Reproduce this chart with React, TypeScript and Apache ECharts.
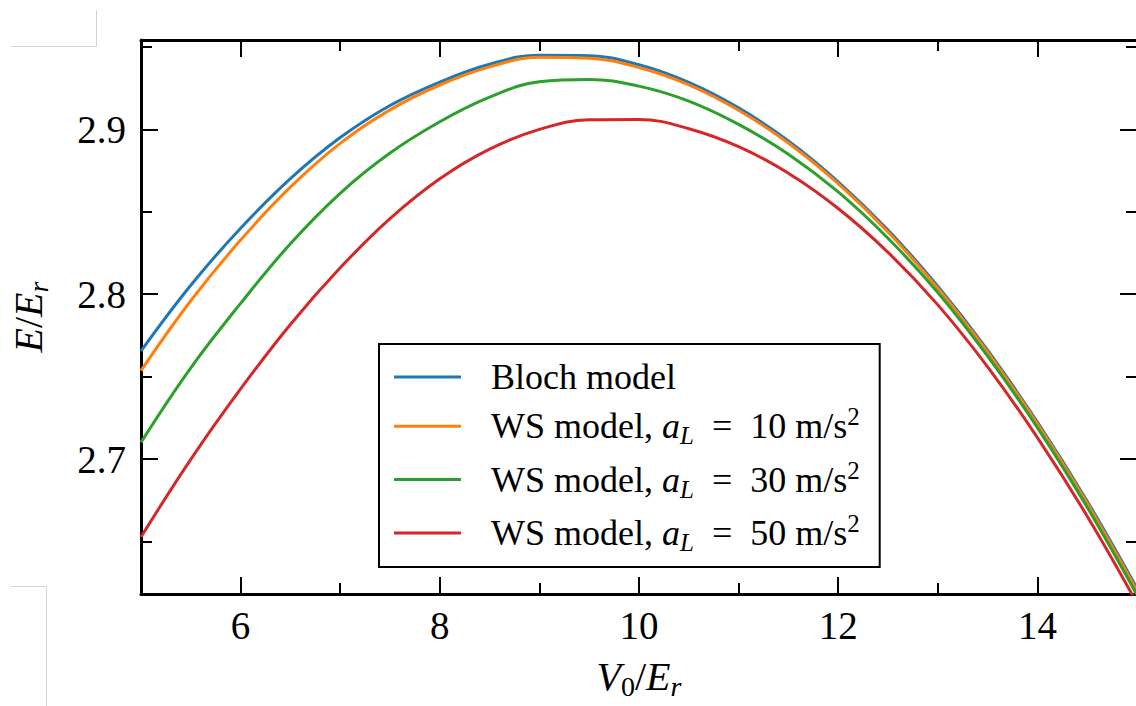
import React, { useEffect, useRef } from "react";
import * as echarts from "echarts";

// V0/Er sample positions
const V0 = [5, 5.5, 6, 6.5, 7, 7.5, 8, 8.5, 9, 9.5, 10, 10.5, 11, 11.5, 12, 12.5, 13, 13.5, 14, 14.5, 15];
// E/Er values
const bloch = [2.7655, 2.8054, 2.84, 2.8701, 2.895, 2.9145, 2.9287, 2.9395, 2.945, 2.9447, 2.9392, 2.9285, 2.913, 2.893, 2.8682, 2.8389, 2.8048, 2.766, 2.7224, 2.6744, 2.6215];
const ws10 = [2.7536, 2.796, 2.8328, 2.8649, 2.8915, 2.9118, 2.9269, 2.9379, 2.9437, 2.9432, 2.9375, 2.927, 2.9116, 2.8917, 2.867, 2.8377, 2.8036, 2.7648, 2.7213, 2.6731, 2.62];
const ws30 = [2.7101, 2.7553, 2.7944, 2.8306, 2.8612, 2.8856, 2.9046, 2.9195, 2.9289, 2.9303, 2.9262, 2.9171, 2.903, 2.8849, 2.862, 2.8339, 2.801, 2.7624, 2.719, 2.6707, 2.6175];
const ws50 = [2.6527, 2.6998, 2.7425, 2.7816, 2.816, 2.8458, 2.87, 2.888, 2.9, 2.9058, 2.906, 2.9004, 2.8895, 2.8734, 2.852, 2.8254, 2.7935, 2.7559, 2.713, 2.6653, 2.6125];

const seriesNames = ["Bloch model", "WS 10", "WS 30", "WS 50"];
const accelerations = [null, "10", "30", "50"];
const colors = ["#1f77b4", "#ff7f0e", "#2ca02c", "#d62728"];
const xTickLabels = [6, 8, 10, 12, 14];
const yTickLabels = [2.7, 2.8, 2.9];

const FONT = "'Liberation Serif', 'Times New Roman', serif";

export default function App() {
  const ref = useRef<HTMLDivElement>(null);
  useEffect(() => {
    if (!ref.current) return;
    const chart = echarts.init(ref.current, null, { renderer: "svg" });
    const allSeries = [bloch, ws10, ws30, ws50];
    const legendText: Record<string, string> = {};
    seriesNames.forEach((n, i) => {
      legendText[n] = accelerations[i] === null
        ? "{r|Bloch model}"
        : `{r|WS model, }{i|a}{sub|L}{r|\u2002=\u2002${accelerations[i]} m/s}{sup|2}`;
    });
    const tickCommon = {
      axisLine: { show: true, onZero: false, lineStyle: { color: "#000", width: 3 } },
      axisTick: { show: true, inside: true, length: 17, lineStyle: { color: "#000", width: 2 } },
      minorTick: { show: true, splitNumber: 2, length: 11, lineStyle: { color: "#000", width: 2 } },
      splitLine: { show: false },
      minorSplitLine: { show: false },
    };
    const xBase = { type: "value", min: 5, max: 15, splitNumber: 5, minInterval: 2, maxInterval: 2, ...tickCommon };
    const yBase = { type: "value", min: 2.6181, max: 2.9542, splitNumber: 3, minInterval: 0.1, maxInterval: 0.1, ...tickCommon };
    const option: any = {
      animation: false,
      backgroundColor: "#fff",
      textStyle: { fontFamily: FONT },
      grid: { left: 141, top: 40, width: 996, height: 554, containLabel: false, outerBoundsMode: "none" },
      xAxis: [
        {
          ...xBase,
          position: "bottom",
          axisLabel: {
            show: true,
            margin: 12,
            fontFamily: FONT,
            fontSize: 39,
            color: "#000",
            formatter: (v: number) => (xTickLabels.some((t) => Math.abs(t - v) < 1e-6) ? String(v) : ""),
          },
          name: "{i|V}{s0|0}{n|/}{i|E}{sr|r}",
          nameLocation: "middle",
          nameGap: 58,
          nameTextStyle: {
            fontFamily: FONT,
            fontSize: 40,
            color: "#000",
            rich: {
              i: { fontFamily: FONT, fontStyle: "italic", fontSize: 40, lineHeight: 48, color: "#000" },
              n: { fontFamily: FONT, fontSize: 40, lineHeight: 48, color: "#000" },
              s0: { fontFamily: FONT, fontSize: 28, lineHeight: 20, verticalAlign: "bottom", color: "#000" },
              sr: { fontFamily: FONT, fontStyle: "italic", fontSize: 28, lineHeight: 20, verticalAlign: "bottom", color: "#000" },
            },
          },
        },
        { ...xBase, position: "top", axisLabel: { show: false } },
      ],
      yAxis: [
        {
          ...yBase,
          position: "left",
          axisLabel: {
            show: true,
            margin: 15,
            fontFamily: FONT,
            fontSize: 39,
            color: "#000",
            formatter: (v: number) => {
              const t = yTickLabels.find((y) => Math.abs(y - v) < 1e-6);
              return t !== undefined ? t.toFixed(1) : "";
            },
          },
          name: "{i|E}{n|/}{i|E}{sr|r}",
          nameLocation: "middle",
          nameRotate: 90,
          nameGap: 89,
          nameTextStyle: {
            fontFamily: FONT,
            fontSize: 40,
            color: "#000",
            rich: {
              i: { fontFamily: FONT, fontStyle: "italic", fontSize: 40, lineHeight: 48, color: "#000" },
              n: { fontFamily: FONT, fontSize: 40, lineHeight: 48, color: "#000" },
              sr: { fontFamily: FONT, fontStyle: "italic", fontSize: 28, lineHeight: 20, verticalAlign: "bottom", color: "#000" },
            },
          },
        },
        { ...yBase, position: "right", axisLabel: { show: false } },
      ],
      legend: {
        show: true,
        orient: "vertical",
        left: 379,
        top: 344,
        data: seriesNames,
        icon: "rect",
        itemWidth: 67,
        itemHeight: 3,
        itemGap: 9.3,
        padding: [15, 20, 12, 15],
        borderColor: "#000",
        borderWidth: 2,
        borderRadius: 0,
        backgroundColor: "#fff",
        selectedMode: false,
        formatter: (name: string) => legendText[name],
        textStyle: {
          fontFamily: FONT,
          fontSize: 36,
          color: "#000",
          padding: [0, 0, 0, 25],
          rich: {
            r: { fontFamily: FONT, fontSize: 36, lineHeight: 44, color: "#000" },
            i: { fontFamily: FONT, fontStyle: "italic", fontSize: 36, lineHeight: 44, color: "#000" },
            sub: { fontFamily: FONT, fontStyle: "italic", fontSize: 25, lineHeight: 22, verticalAlign: "bottom", color: "#000" },
            sup: { fontFamily: FONT, fontSize: 25, lineHeight: 20, verticalAlign: "top", color: "#000" },
          },
        },
      },
      graphic: [
        { type: "line", silent: true, shape: { x1: 11, y1: 46.5, x2: 97, y2: 46.5 }, style: { stroke: "#d4d4d4", lineWidth: 1 } },
        { type: "line", silent: true, shape: { x1: 96.5, y1: 10, x2: 96.5, y2: 46.5 }, style: { stroke: "#d4d4d4", lineWidth: 1 } },
        { type: "line", silent: true, shape: { x1: 11, y1: 586.5, x2: 46.5, y2: 586.5 }, style: { stroke: "#d4d4d4", lineWidth: 1 } },
        { type: "line", silent: true, shape: { x1: 46.5, y1: 586.5, x2: 46.5, y2: 706 }, style: { stroke: "#d4d4d4", lineWidth: 1 } },
      ],
      series: allSeries.map((vals, i) => ({
        name: seriesNames[i],
        type: "line",
        xAxisIndex: 0,
        yAxisIndex: 0,
        data: V0.map((x, k) => [x, vals[k]]),
        symbol: "none",
        showSymbol: false,
        smooth: 0.4,
        clip: true,
        color: colors[i],
        lineStyle: { color: colors[i], width: 3 },
        itemStyle: { color: colors[i] },
      })),
    };
    chart.setOption(option);
    return () => chart.dispose();
  }, []);
  return <div ref={ref} style={{ position: "fixed", left: 0, top: 0, width: 1136, height: 706 }} />;
}
